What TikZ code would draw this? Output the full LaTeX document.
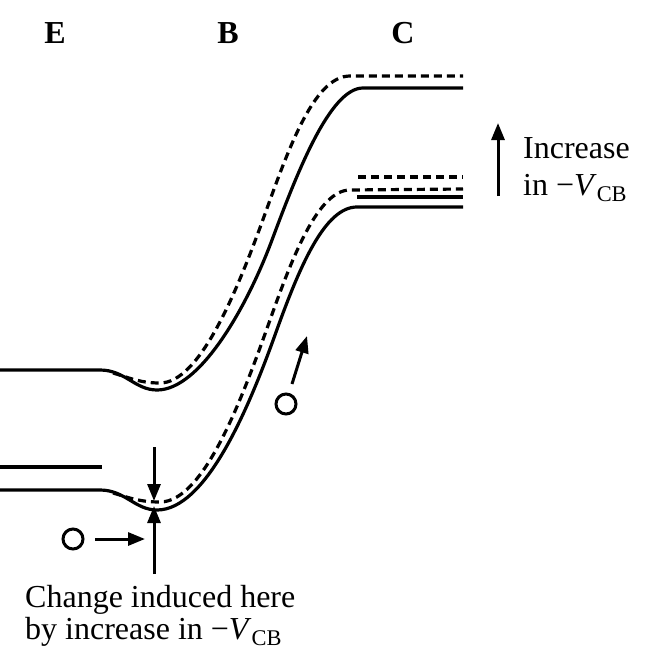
\documentclass[tikz,border=0pt]{standalone}
\usepackage{fontspec}
\setmainfont{Liberation Serif}
\usetikzlibrary{arrows.meta}
\tikzset{
  band/.style={line width=3.2bp, line cap=butt, line join=round},
  shifted/.style={band, dash pattern=on 8bp off 5bp},
  lbl/.style={font=\fontsize{32bp}{32bp}\selectfont, inner sep=0pt},
  reg/.style={font=\fontsize{32bp}{32bp}\selectfont\bfseries, inner sep=0pt},
  hole/.style={circle, draw, line width=3bp, minimum size=20bp, inner sep=0pt},
  arr/.style={line width=3bp, -{Triangle[length=17bp,width=13bp]}}
}
\begin{document}
\begin{tikzpicture}[x=1bp,y=-1bp]
\useasboundingbox (0,0) rectangle (648,672);
% region labels
\node[reg] (E) at (55,33) {E};
\node[reg] (B) at (228,33) {B};
\node[reg] (C) at (403,33) {C};
% upper band, solid
\draw[band] (0,370) -- (100,370) .. controls (125,370) and (135,390) .. (157,390)
  .. controls (200,390) and (247,307) .. (272,240)
  .. controls (297,173) and (330,88) .. (363,88) -- (463,88);
% upper band, dashed
\draw[shifted] (113,373) .. controls (130,378) and (140,383) .. (160,383)
  .. controls (200,383) and (237,290) .. (261,225)
  .. controls (287,153) and (313,76) .. (350,76) -- (463,76);
% lower band, solid
\draw[band] (0,490) -- (100,490) .. controls (125,490) and (135,510) .. (157,510)
  .. controls (205,510) and (247,413) .. (275,335)
  .. controls (300,265) and (325,207) .. (357,207) -- (463,207);
% lower band, dashed
\draw[shifted] (113,493) .. controls (130,498) and (140,502) .. (160,502)
  .. controls (205,502) and (244,393) .. (270,320)
  .. controls (292,258) and (318,190) .. (350,190) -- (463,189);
% emitter short level
\draw[band] (0,467) -- (102,467);
% collector levels
\draw[shifted] (358,177) -- (463,177);
\draw[band] (357,197) -- (463,197);
% arrows at base minimum
\coordinate (dtop) at (154,447);
\coordinate (dtip) at (154,501);
\coordinate (ubot) at (154,574);
\coordinate (utip) at (154,506);
\draw[arr] (dtop) -- (dtip);
\draw[arr] (ubot) -- (utip);
% holes
\node[hole] (h1) at (73,539) {};
\coordinate (h1s) at (95,539);
\coordinate (h1tip) at (145,539);
\draw[arr] (h1s) -- (h1tip);
\node[hole] (h2) at (286,404) {};
\coordinate (h2s) at (292,384);
\coordinate (h2tip) at (307,336);
\draw[arr] (h2s) -- (h2tip);
% right arrow and label
\coordinate (rb) at (498,196);
\coordinate (rt) at (498,123);
\draw[arr] (rb) -- (rt);
\node[lbl, anchor=base west] (inc1) at (523,158) {Increase};
\node[lbl, anchor=base west] (inc2) at (523,195) {in −\textit{V}\textsubscript{CB}};
% bottom label
\node[lbl, anchor=base west] (b1) at (25,607) {Change induced here};
\node[lbl, anchor=base west] (b2) at (25,639) {by increase in −\textit{V}\textsubscript{CB}};
\end{tikzpicture}
\end{document}
